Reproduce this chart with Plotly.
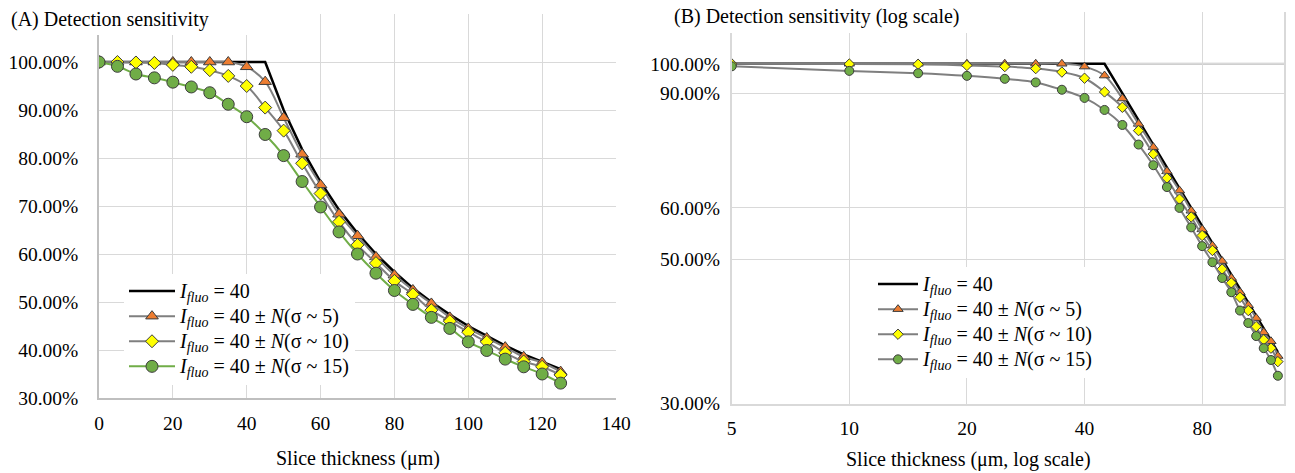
import math
import plotly.graph_objects as go

# Slice thickness (µm) and detection sensitivity for each intensity model
thickness = [0, 5, 10, 15, 20, 25, 30, 35, 40, 45, 50, 55, 60, 65, 70, 75,
             80, 85, 90, 95, 100, 105, 110, 115, 120, 125]
fixed_40 = [1.0, 1.0, 1.0, 1.0, 1.0, 1.0, 1.0, 1.0, 1.0, 1.0, 0.9, 0.818, 0.75,
            0.692, 0.643, 0.6, 0.5625, 0.529, 0.5, 0.474, 0.45, 0.429, 0.409,
            0.391, 0.375, 0.36]
noise_s5 = [1.0, 1.0, 1.0, 1.0, 1.0, 1.0, 1.0, 1.0, 0.99, 0.959, 0.884, 0.808,
            0.744, 0.683, 0.638, 0.594, 0.556, 0.525, 0.497, 0.468, 0.445,
            0.425, 0.406, 0.386, 0.374, 0.355]
noise_s10 = [1.0, 1.0, 0.999, 0.998, 0.994, 0.99, 0.983, 0.971, 0.95, 0.905,
             0.857, 0.789, 0.726, 0.667, 0.619, 0.581, 0.544, 0.516, 0.483,
             0.46, 0.437, 0.417, 0.394, 0.376, 0.365, 0.348]
noise_s15 = [1.0, 0.991, 0.975, 0.967, 0.958, 0.948, 0.936, 0.912, 0.886,
             0.849, 0.805, 0.751, 0.698, 0.646, 0.6, 0.56, 0.524, 0.495, 0.468,
             0.445, 0.417, 0.399, 0.381, 0.365, 0.35, 0.331]

lin_y_ticks = [0.3, 0.4, 0.5, 0.6, 0.7, 0.8, 0.9, 1.0, 1.1]
lin_y_text = ["30.00%", "40.00%", "50.00%", "60.00%", "70.00%", "80.00%",
              "90.00%", "100.00%", ""]
lin_x_ticks = [0, 20, 40, 60, 80, 100, 120, 140]
log_y_ticks = [0.3, 0.5, 0.6, 0.9, 1.0, 1.2]
log_y_text = ["30.00%", "50.00%", "60.00%", "90.00%", "100.00%", ""]
log_x_ticks = [5, 10, 20, 40, 80]

W, H = 1295, 473
FONT = "Liberation Serif"
GRID = "#d9d9d9"
GRAY = "#7f7f7f"
ORANGE = "#ed7d31"
YELLOW = "#ffff00"
GREEN = "#70ad47"
EDGE = "#3c3c3c"
CLEAR = "rgba(0,0,0,0)"


def px(x):
    return x / W


def py(y):
    return 1 - y / H


def label(extra):
    base = "<i>I</i><sub><i>fluo</i></sub> = 40" + extra
    return '<span style="font-size:20px">' + base + "</span>"


names = [label(""), label(" ± <i>N</i>(σ ~ 5)"),
         label(" ± <i>N</i>(σ ~ 10)"), label(" ± <i>N</i>(σ ~ 15)")]

fig = go.Figure()

# (A) linear axes
fig.add_trace(go.Scatter(x=thickness, y=fixed_40, name=names[0], mode="lines",
                         line=dict(color="black", width=2.5),
                         xaxis="x", yaxis="y", legend="legend"))
fig.add_trace(go.Scatter(x=thickness, y=noise_s5, name=names[1], mode="lines+markers",
                         line=dict(color=GRAY, width=2, shape="spline"),
                         marker=dict(symbol="triangle-up", size=11, color=ORANGE,
                                     line=dict(color=EDGE, width=1)),
                         xaxis="x", yaxis="y", legend="legend"))
fig.add_trace(go.Scatter(x=thickness, y=noise_s10, name=names[2], mode="lines+markers",
                         line=dict(color=GRAY, width=2, shape="spline"),
                         marker=dict(symbol="diamond", size=10, color=YELLOW,
                                     line=dict(color=EDGE, width=1)),
                         xaxis="x", yaxis="y", legend="legend"))
fig.add_trace(go.Scatter(x=thickness, y=noise_s15, name=names[3], mode="lines+markers",
                         line=dict(color=GREEN, width=2, shape="spline"),
                         marker=dict(symbol="circle", size=12, color=GREEN,
                                     line=dict(color=EDGE, width=1)),
                         xaxis="x", yaxis="y", legend="legend"))

# (B) log-log axes (thickness 0 cannot be shown)
fig.add_trace(go.Scatter(x=thickness[1:], y=fixed_40[1:], name=names[0], mode="lines",
                         line=dict(color="black", width=2.5),
                         xaxis="x2", yaxis="y2", legend="legend2"))
fig.add_trace(go.Scatter(x=thickness[1:], y=noise_s5[1:], name=names[1], mode="lines+markers",
                         line=dict(color=GRAY, width=2, shape="spline"),
                         marker=dict(symbol="triangle-up", size=9, color=ORANGE,
                                     line=dict(color=EDGE, width=1)),
                         xaxis="x2", yaxis="y2", legend="legend2"))
fig.add_trace(go.Scatter(x=thickness[1:], y=noise_s10[1:], name=names[2], mode="lines+markers",
                         line=dict(color=GRAY, width=2, shape="spline"),
                         marker=dict(symbol="diamond", size=8, color=YELLOW,
                                     line=dict(color=EDGE, width=1)),
                         xaxis="x2", yaxis="y2", legend="legend2"))
fig.add_trace(go.Scatter(x=thickness[1:], y=noise_s15[1:], name=names[3], mode="lines+markers",
                         line=dict(color=GRAY, width=2, shape="spline"),
                         marker=dict(symbol="circle", size=9, color=GREEN,
                                     line=dict(color=EDGE, width=1)),
                         xaxis="x2", yaxis="y2", legend="legend2"))

tickfont = dict(family=FONT, size=19.5, color="black")

fig.update_layout(
    width=W, height=H,
    margin=dict(l=0, r=0, t=0, b=0, autoexpand=False),
    paper_bgcolor="white", plot_bgcolor="white",
    font=dict(family=FONT, size=20, color="black"),
    xaxis=dict(domain=[px(99), px(616)], range=[0, 140], tickvals=lin_x_ticks,
               showgrid=True, gridcolor=GRID, gridwidth=1, zeroline=False,
               showline=True, linecolor="#bfbfbf", linewidth=1.5,
               ticks="outside", ticklen=7, tickcolor=CLEAR,
               tickfont=tickfont, anchor="y", automargin=False),
    yaxis=dict(domain=[py(398), py(14)], range=[0.3, 1.1], tickvals=lin_y_ticks,
               ticktext=lin_y_text, showgrid=True, gridcolor=GRID, gridwidth=1,
               zeroline=False, showline=True, linecolor="#bfbfbf", linewidth=1.5,
               ticks="outside", ticklen=15, tickcolor=CLEAR,
               tickfont=tickfont, anchor="x", automargin=False),
    xaxis2=dict(type="log", domain=[px(731.7), px(1284)],
                range=[math.log10(5), math.log10(129.6)], tickvals=log_x_ticks,
                ticktext=[str(v) for v in log_x_ticks],
                showgrid=True, gridcolor=GRID, gridwidth=1, zeroline=False,
                showline=True, linecolor=GRID, linewidth=1.5,
                ticks="outside", ticklen=6, tickcolor=CLEAR,
                tickfont=tickfont, anchor="y2", automargin=False),
    yaxis2=dict(type="log", domain=[py(403.5), py(12.3)],
                range=[math.log10(0.3), math.log10(1.2)], tickvals=log_y_ticks,
                ticktext=log_y_text, showgrid=True, gridcolor=GRID, gridwidth=1,
                zeroline=False, showline=True, mirror=True, linecolor=GRID,
                linewidth=1.5, ticks="outside", ticklen=6, tickcolor=CLEAR,
                tickfont=tickfont, anchor="x2", automargin=False),
    legend=dict(x=px(124), y=py(329), xanchor="left", yanchor="middle",
                bgcolor="white", borderwidth=0, itemwidth=46,
                font=dict(family=FONT, size=17, color="black"), tracegroupgap=0),
    legend2=dict(x=px(873), y=py(322), xanchor="left", yanchor="middle",
                 bgcolor="white", borderwidth=0, itemwidth=40,
                 font=dict(family=FONT, size=17, color="black"), tracegroupgap=0),
    showlegend=True,
)

shapes = [
    # 100 % reference line on the log panel
    dict(type="line", xref="x2 domain", yref="y2", x0=0, x1=1, y0=1.0, y1=1.0,
         line=dict(color="#bfbfbf", width=2), layer="below"),
    # title boxes
    dict(type="rect", xref="paper", yref="paper", x0=0, x1=px(282),
         y0=py(35), y1=1, fillcolor="white", line=dict(width=0), layer="above"),
    dict(type="rect", xref="paper", yref="paper", x0=px(640), x1=px(994),
         y0=py(33), y1=1, fillcolor="white", line=dict(width=0), layer="above"),
]
fig.update_layout(shapes=shapes)

annotations = [
    dict(text="(A) Detection sensitivity", xref="paper", yref="paper",
         x=px(9), y=py(19), xanchor="left", yanchor="middle", showarrow=False,
         font=dict(family=FONT, size=20)),
    dict(text="(B) Detection sensitivity (log scale)", xref="paper", yref="paper",
         x=px(672), y=py(16), xanchor="left", yanchor="middle", showarrow=False,
         font=dict(family=FONT, size=20)),
    dict(text="Slice thickness (μm)", xref="paper", yref="paper",
         x=px(357.5), y=py(458), xanchor="center", yanchor="middle", showarrow=False,
         font=dict(family=FONT, size=20)),
    dict(text="Slice thickness (μm, log scale)", xref="paper", yref="paper",
         x=px(968), y=py(459), xanchor="center", yanchor="middle", showarrow=False,
         font=dict(family=FONT, size=20)),
]
fig.update_layout(annotations=annotations)

fig.write_html("out.html")
